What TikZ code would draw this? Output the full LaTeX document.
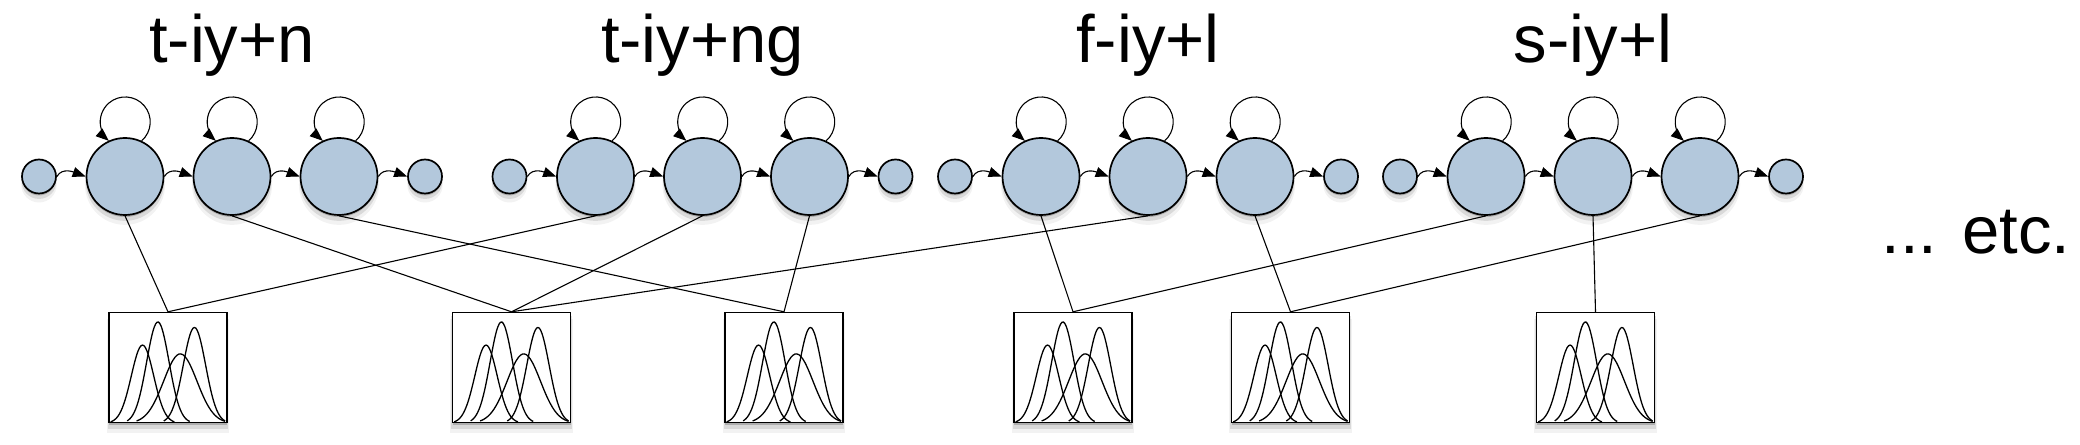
\documentclass[tikz,border=0pt]{standalone}
\usepackage{fontspec}
\setmainfont{Liberation Sans}
\usetikzlibrary{arrows.meta,shadows}
\definecolor{statefill}{RGB}{179,200,220}
\tikzset{
  softshadow/.style={
    general shadow={shadow xshift=0pt,shadow yshift=-1pt,fill=black,opacity=.2},
    general shadow={shadow xshift=0pt,shadow yshift=-2.5pt,shadow scale=1.02,fill=black,opacity=.1},
    general shadow={shadow xshift=0pt,shadow yshift=-4pt,shadow scale=1.04,fill=black,opacity=.05}},
  bigstate/.style={circle,draw,line width=0.85pt,fill=statefill,minimum size=38.5pt,inner sep=0pt,softshadow},
  smallstate/.style={circle,draw,line width=0.85pt,fill=statefill,minimum size=17pt,inner sep=0pt,softshadow},
  gbox/.style={rectangle,draw,line width=0.7pt,fill=white,minimum width=59pt,minimum height=55pt,inner sep=0pt,softshadow},
  trans/.style={-{Triangle[length=6.5pt,width=5pt]},line width=0.55pt},
  link/.style={line width=0.55pt},
  bellline/.style={line width=0.65pt},
  title/.style={font=\fontsize{33.5}{40}\selectfont,anchor=base,inner sep=0pt},
}
\newcommand{\bellcurve}[5]{\draw[bellline] plot[domain=#4:#5,samples=45,smooth] (\x,{#2*exp(-(\x-#1)*(\x-#1)/#3)});}
\begin{document}
\begin{tikzpicture}[x=0.5pt,y=0.5pt]
\useasboundingbox (0,0) rectangle (2080,444);
% HMM groups
\foreach \g/\xs/\lab in {1/39/t-iy+n, 2/509.5/t-iy+ng, 3/955/f-iy+l, 4/1400/s-iy+l}{
  \node[smallstate] (g\g s1) at (\xs,267.5) {};
  \node[bigstate] (g\g b1) at (\xs+86,267.5) {};
  \node[bigstate] (g\g b2) at (\xs+193,267.5) {};
  \node[bigstate] (g\g b3) at (\xs+300,267.5) {};
  \node[smallstate] (g\g s2) at (\xs+386,267.5) {};
  \node[title] (g\g t) at (\xs+193,381) {\lab};
  \draw[trans] (g\g s1.east) to[out=60,in=160] (g\g b1.west);
  \draw[trans] (g\g b1.east) to[out=60,in=160] (g\g b2.west);
  \draw[trans] (g\g b2.east) to[out=60,in=160] (g\g b3.west);
  \draw[trans] (g\g b3.east) to[out=60,in=160] (g\g s2.west);
  \foreach \k in {1,2,3}{
    \draw[trans] (g\g b\k.65) arc[start angle=-49,end angle=229,radius=12.5pt];
  }
}
% Gaussian boxes
\foreach \b/\bx in {1/168, 2/511.5, 3/784, 4/1073, 5/1290.5, 6/1595.5}{
  \node[gbox] (bx\b) at (\bx,76.5) {};
  \begin{scope}[shift={(bx\b.south west)},x=59pt,y=55pt]
    \bellcurve{0.29}{0.71}{0.018}{0.02}{0.56}
    \bellcurve{0.42}{0.92}{0.018}{0.16}{0.69}
    \bellcurve{0.61}{0.63}{0.040}{0.24}{0.99}
    \bellcurve{0.73}{0.87}{0.018}{0.47}{0.99}
  \end{scope}
}
% state-to-mixture links
\draw[link] (g1b1.south) -- (bx1.north);
\draw[link] (g1b2.south) -- (bx2.north);
\draw[link] (g1b3.south) -- (bx3.north);
\draw[link] (g2b1.south) -- (bx1.north);
\draw[link] (g2b2.south) -- (bx2.north);
\draw[link] (g2b3.south) -- (bx3.north);
\draw[link] (g3b1.south) -- (bx4.north);
\draw[link] (g3b2.south) -- (bx2.north);
\draw[link] (g3b3.south) -- (bx5.north);
\draw[link] (g4b1.south) -- (bx4.north);
\draw[link] (g4b2.south) -- (bx6.north);
\draw[link] (g4b3.south) -- (bx5.north);
\node[title] (etc) at (1976,190) {... etc.};
\end{tikzpicture}
\end{document}
